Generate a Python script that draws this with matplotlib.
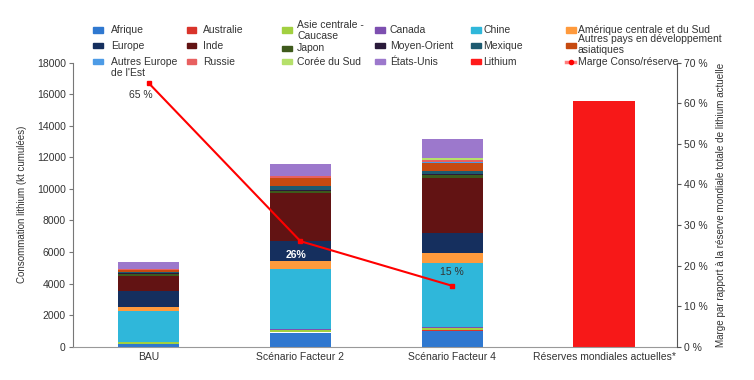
import numpy as np
import matplotlib.pyplot as plt
from matplotlib.patches import Rectangle
from matplotlib.lines import Line2D

plt.rcParams['font.family'] = ['Liberation Sans', 'DejaVu Sans']

# categories on the x axis
categories = ['BAU', 'Scénario Facteur 2', 'Scénario Facteur 4', 'Réserves mondiales actuelles*']

# cumulated lithium consumption (kt) per region, for BAU / Facteur 2 / Facteur 4
regions = ['Afrique', 'Australie', 'Asie centrale -\nCaucase', 'Canada', 'Chine',
           'Amérique centrale et du Sud', 'Europe', 'Inde', 'Japon', 'Moyen-Orient',
           'Mexique', 'Autres pays en développement\nasiatiques', "Autres Europe\nde l'Est",
           'Russie', 'Corée du Sud', 'États-Unis']
afrique = [150, 900, 1000]
australie = [40, 50, 60]
asie_centrale = [80, 100, 130]
canada = [30, 50, 80]
chine = [1980, 3800, 4010]
amerique = [250, 550, 680]
europe = [1000, 1270, 1260]
inde = [950, 3000, 3490]
japon = [150, 170, 170]
moyen_orient = [40, 60, 60]
mexique = [60, 230, 210]
autres_asie = [130, 490, 470]
autres_europe_est = [20, 40, 60]
russie = [40, 80, 180]
coree = [20, 30, 80]
etats_unis = [420, 760, 1220]
series = [afrique, australie, asie_centrale, canada, chine, amerique, europe, inde,
          japon, moyen_orient, mexique, autres_asie, autres_europe_est, russie, coree, etats_unis]
colors = ['#2f78d0', '#d9342b', '#a2d040', '#7d4fb0', '#2fb7da', '#ff9a3c', '#152f5e', '#621313',
          '#3e5a1c', '#2a1a3a', '#1d5a70', '#c64a10', '#4d9be6', '#e86060', '#b5e06a', '#9c78cc']

lithium_reserve = 15600   # kt
marge = [65, 26, 15]      # % of the world reserve
marge_labels = ['65 %', '26%', '15 %']

fig = plt.figure(figsize=(7.54, 3.80), dpi=100)
ax = fig.add_axes([72.7/754, 1-346.7/380, (677-72.7)/754, (346.7-62.7)/380])
ax2 = ax.twinx()

x = np.arange(len(categories))
bottom = np.zeros(3)
for vals, col in zip(series, colors):
    ax.bar(x[:3], vals, 0.4, bottom=bottom, color=col, edgecolor='none')
    bottom += np.array(vals)
ax.bar(x[3], lithium_reserve, 0.41, color='#f71818', edgecolor='none')

ax.set_xlim(-0.5, 3.48)
ax.set_ylim(0, 18000)
ax.set_yticks(np.arange(0, 18001, 2000))
ax.set_xticks(x)
ax.set_xticklabels(categories)
ax.tick_params(axis='x', length=0, labelsize=7.5, colors='#333333', pad=4)
ax.tick_params(axis='y', length=3, labelsize=7.5, colors='#333333', pad=2, color='#777777')
ax.set_ylabel('Consommation lithium (kt cumulées)', fontsize=7, color='#333333')
ax.yaxis.set_label_coords(-0.0756, 0.5)
for s in ['top', 'right']:
    ax.spines[s].set_visible(False)
ax.spines['left'].set_color('#777777')
ax.spines['bottom'].set_color('#999999')

ax2.plot(x[:3], marge, color='#ff0000', lw=1.5, marker='s', ms=3.5)
ax2.set_ylim(0, 70)
ax2.set_yticks(np.arange(0, 71, 10))
ax2.set_yticklabels(['%d %%' % v for v in range(0, 71, 10)])
ax2.tick_params(axis='y', length=3, labelsize=7.5, colors='#333333', pad=2, color='#555555')
ax2.set_ylabel('Marge par rapport à la réserve mondiale totale de lithium actuelle', fontsize=7.1, color='#333333')
ax2.yaxis.set_label_coords(1.0645, 0.5)
for s in ['top', 'left', 'bottom']:
    ax2.spines[s].set_visible(False)
ax2.spines['right'].set_color('#555555')

ax2.text(-0.05, 62.0, marge_labels[0], fontsize=7.5, color='#333333', ha='center', va='center')
ax2.text(0.97, 22.6, marge_labels[1], fontsize=7.5, color='white', fontweight='bold', ha='center', va='center')
ax2.text(2.0, 18.4, marge_labels[2], fontsize=7.5, color='#333333', ha='center', va='center')

# legend, drawn row by row (6 columns) like the original
leg_names = regions + ['Lithium', 'Marge Conso/réserve']
leg_colors = colors + ['#ff1a1a', '#ff0000']
col_mark = [93, 187, 282, 375, 471, 566]
col_text = [111, 203, 297, 390, 483, 578]
row_y = [30, 45.7, 61.7]
text_y = {2: 30.7, 8: 48.3, 11: 44.7, 12: 67.3}
mark_y = {8: 48.3}
for i in range(len(leg_names)):
    r, c = divmod(i, 6)
    ty = text_y.get(i, row_y[r])
    my = mark_y.get(i, row_y[r])
    if i == 17:
        fig.add_artist(Line2D([col_mark[c]/754, (col_mark[c]+9)/754], [1-my/380]*2,
                              color='#ff8080', lw=2.5, transform=fig.transFigure))
        fig.add_artist(Line2D([(col_mark[c]+4.5)/754], [1-my/380], marker='o', ms=3,
                              color='#ff0000', transform=fig.transFigure))
    else:
        fig.add_artist(Rectangle((col_mark[c]/754, 1-(my+2.5)/380), 9.5/754, 5/380,
                                 color=leg_colors[i], transform=fig.transFigure))
    fig.text(col_text[c]/754, 1-ty/380, leg_names[i], fontsize=7.5, color='#333333',
             ha='left', va='center', linespacing=1.1)

fig.savefig('out.png', dpi=100)
